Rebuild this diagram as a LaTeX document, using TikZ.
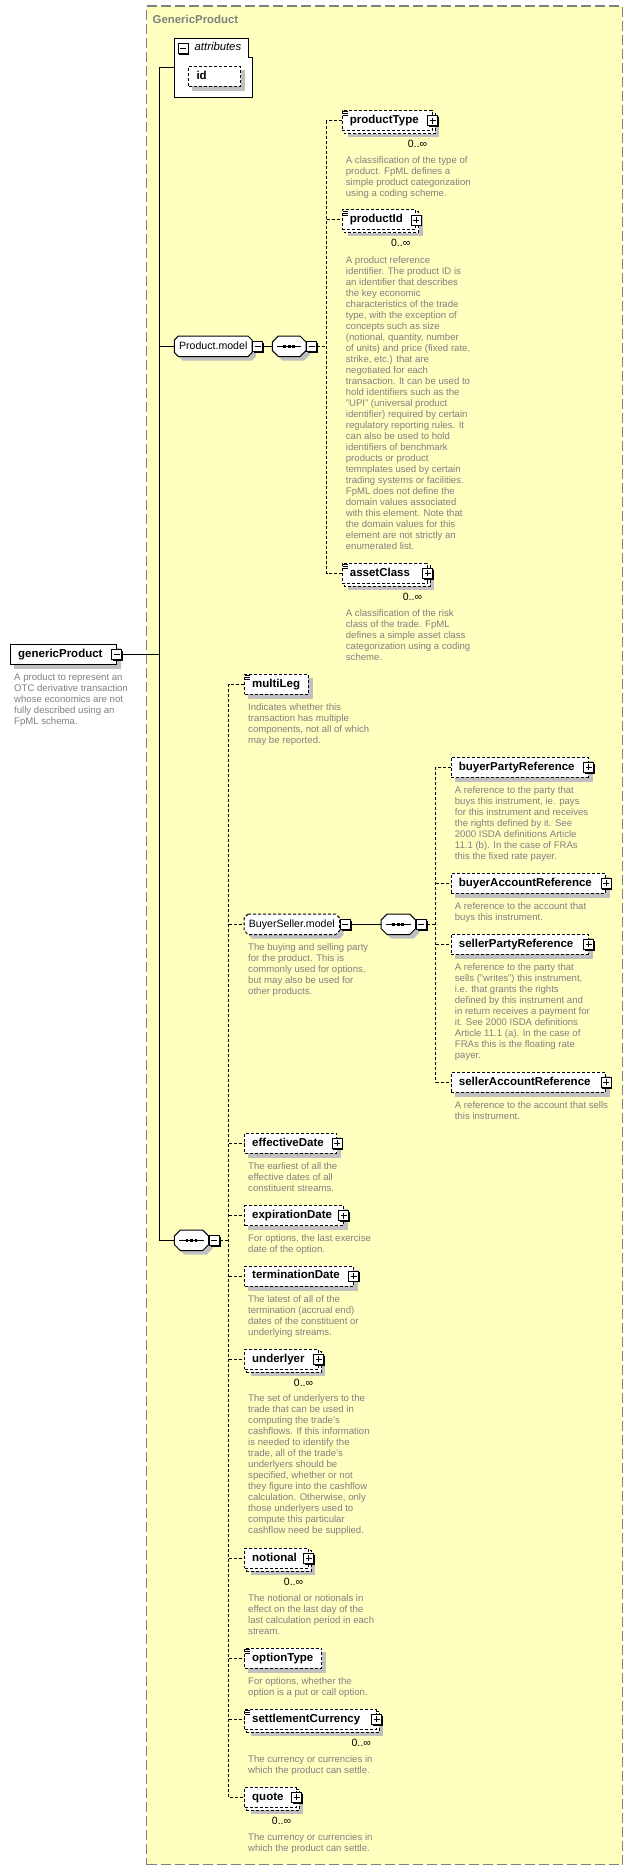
\documentclass[tikz,border=0pt]{standalone}
\usepackage{fontspec}
\setmainfont{Liberation Sans}
\usetikzlibrary{shadows}
\pgfdeclarelayer{back}
\pgfdeclarelayer{mid}
\pgfsetlayers{back,mid,main}
\definecolor{boxyellow}{HTML}{FFFFC0}
\definecolor{framegray}{HTML}{808080}
\definecolor{shadowc}{HTML}{C0C0C0}
\definecolor{desccol}{HTML}{808080}
\tikzset{
  conn/.style={line width=1pt, draw=black},
  dconn/.style={line width=1pt, draw=black, dash pattern=on 3pt off 2pt},
  opt/.style={dash pattern=on 3pt off 2pt},
  elem/.style={draw=black, fill=white, line width=1pt, minimum height=20pt, inner sep=0pt, anchor=west},
  elname/.style={inner sep=0pt, anchor=west, text height=8.3pt, text depth=2.4pt, font=\fontsize{11.5}{13}\selectfont\bfseries},
  model/.style={inner sep=0pt, anchor=west, minimum height=20pt, text height=7.7pt, text depth=2.2pt, font=\fontsize{10.6}{12}\selectfont},
  seqn/.style={inner sep=0pt, anchor=west, minimum height=20pt},
  occ/.style={inner sep=0pt, anchor=east, font=\fontsize{10.5}{12}\selectfont, text height=7.5pt, text depth=0.5pt},
  desctext/.style={anchor=north west, inner sep=0pt, align=left, text=desccol, font=\fontsize{9.6}{11}\selectfont},
  pmbase/.style={rectangle, draw=black, fill=white, line width=0.8pt, minimum size=10pt, inner sep=0pt,
     drop shadow={shadow xshift=1.4pt, shadow yshift=-1.4pt, fill=black, opacity=1}},
  plusbox/.style={pmbase, path picture={
     \draw[line width=0.8pt] ([xshift=-3pt]path picture bounding box.center) -- ([xshift=3pt]path picture bounding box.center);
     \draw[line width=0.8pt] ([yshift=-3pt]path picture bounding box.center) -- ([yshift=3pt]path picture bounding box.center);}},
  minusbox/.style={pmbase, path picture={
     \draw[line width=0.8pt] ([xshift=-3pt]path picture bounding box.center) -- ([xshift=3pt]path picture bounding box.center);}},
  frame/.style={draw=framegray, fill=boxyellow, line width=1.2pt, dash pattern=on 10pt off 4pt, inner sep=0pt},
}
% element: [opts]{name}{x}{y}{width}{text}
\newcommand\elem[6][]{%
  \node[elem, minimum width=#5pt, #1] (#2) at (#3,#4) {};
  \node[elname] (#2-t) at ([xshift=8pt]#2.west) {#6};
  \begin{pgfonlayer}{mid}
    \fill[shadowc] ([shift={(4,4)}]#2.north west) rectangle ([shift={(4,4)}]#2.south east);
  \end{pgfonlayer}}
\newcommand\melem[6][]{%
  \node[elem, minimum width=#5pt, #1] (#2) at (#3,#4) {};
  \node[elname] (#2-t) at ([xshift=8pt]#2.west) {#6};
  \begin{pgfonlayer}{mid}
    \fill[shadowc] ([shift={(6.5,6)}]#2.north west) rectangle ([shift={(6.5,6)}]#2.south east);
    \draw[opt, line width=1pt, fill=white] ([shift={(2.5,2.5)}]#2.north west) rectangle ([shift={(2.5,2.5)}]#2.south east);
  \end{pgfonlayer}
  \node[occ] (#2-o) at ([shift={(-5.5,23.5)}]#2.east) {0..∞};}
\newcommand\plusof[1]{\node[plusbox] (#1-pm) at (#1.east) {};}
\newcommand\listicon[1]{\draw[line width=0.9pt]
  ([shift={(1,1.5)}]#1.north west) -- +(5,0)
  ([shift={(1,3.5)}]#1.north west) -- +(5,0)
  ([shift={(1,5.5)}]#1.north west) -- +(5,0);}
\newcommand\desc[3]{\node[desctext] (#1-d) at ([shift={(4,#2)}]#1.west) {\strut #3};}
% chamfered outline: node, cut, style, offset
\newcommand\chamf[4]{%
  \path[#3] ([shift={(#2+#4,#4)}]#1.north west) -- ([shift={(-#2+#4,#4)}]#1.north east)
   -- ([shift={(#4,#2+#4)}]#1.north east) -- ([shift={(#4,-#2+#4)}]#1.south east)
   -- ([shift={(-#2+#4,#4)}]#1.south east) -- ([shift={(#2+#4,#4)}]#1.south west)
   -- ([shift={(#4,-#2+#4)}]#1.south west) -- ([shift={(#4,#2+#4)}]#1.north west) -- cycle;}
\newcommand\seqicon[1]{%
  \draw[line width=1pt] ([xshift=5pt]#1.west) -- ([xshift=-5pt]#1.east);
  \foreach \dx in {-4.5,0,4.5} {\fill ([shift={(\dx-1.4,-1.4)}]#1.center) rectangle ([shift={(\dx+1.4,1.4)}]#1.center);}}
\newcommand\modelnode[6][]{% [outline opts]{name}{x}{y}{width}{text}
  \node[model, minimum width=#5pt] (#2) at (#3,#4) {#6};
  \begin{pgfonlayer}{mid}
    \chamf{#2}{4}{fill=shadowc}{4}
    \chamf{#2}{4}{fill=white, draw=black, line width=1pt, #1}{0}
  \end{pgfonlayer}
  \node[minusbox] (#2-pm) at ([xshift=5.5pt]#2.east) {};}
\newcommand\seqnode[4]{% name, x, y, width
  \node[seqn, minimum width=#4pt] (#1) at (#2,#3) {};
  \begin{pgfonlayer}{mid}
    \chamf{#1}{6}{fill=shadowc}{4}
    \chamf{#1}{6}{fill=white, draw=black, line width=1pt}{0}
  \end{pgfonlayer}
  \seqicon{#1}
  \node[minusbox] (#1-pm) at ([xshift=5.5pt]#1.east) {};}

\begin{document}
\begin{tikzpicture}[x=1pt, y=-1pt]
\useasboundingbox (0,0) rectangle (633,1870);
\begin{pgfonlayer}{back}
  \fill[white] (0,0) rectangle (633,1870);
  \node[frame, anchor=north west, minimum width=476pt, minimum height=1858.5pt] (gpbox) at (146,5.5) {};
\end{pgfonlayer}
\node[inner sep=0pt, anchor=west, text=framegray, font=\fontsize{11.4}{13}\selectfont\bfseries] (title) at (152.5,19.5) {GenericProduct};

% attributes
\node[inner sep=0pt, minimum width=77.4pt, minimum height=59pt, anchor=north west] (attr) at (174.3,38.3) {};
\begin{pgfonlayer}{mid}
  \draw[line width=1pt, fill=white] (attr.north west) -- ([shift={(-4,0)}]attr.north east)
    -- ([shift={(-4,19)}]attr.north east) -- ([shift={(0,19)}]attr.north east)
    -- (attr.south east) -- (attr.south west) -- cycle;
\end{pgfonlayer}
\node[minusbox] (attr-pm) at (183,48.5) {};
\node[inner sep=0pt, anchor=west, text height=8pt, text depth=2.4pt, font=\fontsize{11.3}{13}\selectfont\itshape] (attr-t) at (194.5,48) {attributes};
\elem[opt]{id}{188.3}{76.3}{51.7}{id}

% root element
\elem{gp}{10}{654.3}{105.7}{genericProduct}
\node[minusbox] (gp-pm) at (gp.east) {};
\desc{gp}{18.6}{A product to represent an\\OTC derivative transaction\\whose economics are not\\fully described using an\\FpML schema.}

% Product.model
\modelnode{pmodel}{174.3}{346.3}{77.4}{Product.model}
\seqnode{seq1}{272.3}{346.3}{33.4}

\melem[opt]{pt}{341.7}{120.7}{90}{productType}
\plusof{pt}\listicon{pt}
\desc{pt}{35.1}{A classification of the type of\\product. FpML defines a\\simple product categorization\\using a coding scheme.}

\melem[opt]{pid}{341.7}{220}{73.3}{productId}
\plusof{pid}\listicon{pid}
\desc{pid}{35.7}{A product reference\\identifier. The product ID is\\an identifier that describes\\the key economic\\characteristics of the trade\\type, with the exception of\\concepts such as size\\(notional, quantity, number\\of units) and price (fixed rate,\\strike, etc.) that are\\negotiated for each\\transaction. It can be used to\\hold identifiers such as the\\"UPI" (universal product\\identifier) required by certain\\regulatory reporting rules. It\\can also be used to hold\\identifiers of benchmark\\products or product\\temnplates used by certain\\trading systems or facilities.\\FpML does not define the\\domain values associated\\with this element. Note that\\the domain values for this\\element are not strictly an\\enumerated list.}

\melem[opt]{ac}{341.7}{573.3}{85}{assetClass}
\plusof{ac}\listicon{ac}
\desc{ac}{35.1}{A classification of the risk\\class of the trade. FpML\\defines a simple asset class\\categorization using a coding\\scheme.}

% main sequence
\seqnode{mseq}{174.3}{1240.3}{34}

\elem[opt]{ml}{244}{684.3}{63.7}{multiLeg}
\listicon{ml}
\desc{ml}{18.1}{Indicates whether this\\transaction has multiple\\components, not all of which\\may be reported.}

\modelnode[opt]{bs}{244}{924.3}{95.3}{BuyerSeller.model}
\desc{bs}{18.1}{The buying and selling party\\for the product. This is\\commonly used for options,\\but may also be used for\\other products.}
\seqnode{seq2}{381}{924.3}{34.3}

\elem[opt]{bpr}{450.7}{767.3}{137}{buyerPartyReference}
\plusof{bpr}
\desc{bpr}{18.1}{A reference to the party that\\buys this instrument, ie. pays\\for this instrument and receives\\the rights defined by it. See\\2000 ISDA definitions Article\\11.1 (b). In the case of FRAs\\this the fixed rate payer.}

\elem[opt]{bar}{450.7}{883.3}{154.3}{buyerAccountReference}
\plusof{bar}
\desc{bar}{18.1}{A reference to the account that\\buys this instrument.}

\elem[opt]{spr}{450.7}{944.3}{137}{sellerPartyReference}
\plusof{spr}
\desc{spr}{18.1}{A reference to the party that\\sells ("writes") this instrument,\\i.e. that grants the rights\\defined by this instrument and\\in return receives a payment for\\it. See 2000 ISDA definitions\\Article 11.1 (a). In the case of\\FRAs this is the floating rate\\payer.}

\elem[opt]{sar}{450.7}{1082.3}{154.3}{sellerAccountReference}
\plusof{sar}
\desc{sar}{18.1}{A reference to the account that sells\\this instrument.}

\elem[opt]{ed}{244}{1143.3}{92}{effectiveDate}
\plusof{ed}
\desc{ed}{18.1}{The earliest of all the\\effective dates of all\\constituent streams.}

\elem[opt]{xd}{244}{1215.7}{98.5}{expirationDate}
\plusof{xd}
\desc{xd}{18.1}{For options, the last exercise\\date of the option.}

\elem[opt]{td}{244}{1276}{108.5}{terminationDate}
\plusof{td}
\desc{td}{18.1}{The latest of all of the\\termination (accrual end)\\dates of the constituent or\\underlying streams.}

\melem[opt]{ul}{244}{1359.3}{73.8}{underlyer}
\plusof{ul}
\desc{ul}{34.7}{The set of underlyers to the\\trade that can be used in\\computing the trade's\\cashflows. If this information\\is needed to identify the\\trade, all of the trade's\\underlyers should be\\specified, whether or not\\they figure into the cashflow\\calculation. Otherwise, only\\those underlyers used to\\compute this particular\\cashflow need be supplied.}

\melem[opt]{no}{244}{1558.3}{63.8}{notional}
\plusof{no}
\desc{no}{35.1}{The notional or notionals in\\effect on the last day of the\\last calculation period in each\\stream.}

\elem[opt]{ot}{244}{1658.3}{77}{optionType}
\listicon{ot}
\desc{ot}{18.1}{For options, whether the\\option is a put or call option.}

\melem[opt]{sc}{244}{1719.3}{131.5}{settlementCurrency}
\plusof{sc}\listicon{sc}
\desc{sc}{35.1}{The currency or currencies in\\which the product can settle.}

\melem[opt]{qu}{244}{1797.3}{51.8}{quote}
\plusof{qu}
\desc{qu}{35.1}{The currency or currencies in\\which the product can settle.}

% connectors
\coordinate (mv) at (159.3,0);
\coordinate (dv1) at (326.7,0);
\coordinate (dv2) at (228.5,0);
\coordinate (dv3) at (435.7,0);
\draw[conn] (attr.west) -- (attr.west -| mv) -- (mseq.west -| mv) -- (mseq.west);
\draw[conn] (pmodel.west -| mv) -- (pmodel.west);
\draw[conn] (gp-pm.east) -- (gp-pm.east -| mv);
\draw[conn] (pmodel-pm.east) -- (seq1.west);
\draw[dconn] (seq1-pm.east) -- (seq1-pm.east -| dv1);
\draw[dconn] (pt.west) -- (pt.west -| dv1) -- (ac.west -| dv1) -- (ac.west);
\draw[dconn] (pid.west -| dv1) -- (pid.west);
\draw[dconn] (mseq-pm.east) -- (mseq-pm.east -| dv2);
\draw[dconn] (ml.west) -- (ml.west -| dv2) -- (qu.west -| dv2) -- (qu.west);
\foreach \n in {bs,ed,xd,td,ul,no,ot,sc} {\draw[dconn] (\n.west -| dv2) -- (\n.west);}
\draw[conn] (bs-pm.east) -- (seq2.west);
\draw[dconn] (seq2-pm.east) -- (seq2-pm.east -| dv3);
\draw[dconn] (bpr.west) -- (bpr.west -| dv3) -- (sar.west -| dv3) -- (sar.west);
\foreach \n in {bar,spr} {\draw[dconn] (\n.west -| dv3) -- (\n.west);}
\end{tikzpicture}
\end{document}
